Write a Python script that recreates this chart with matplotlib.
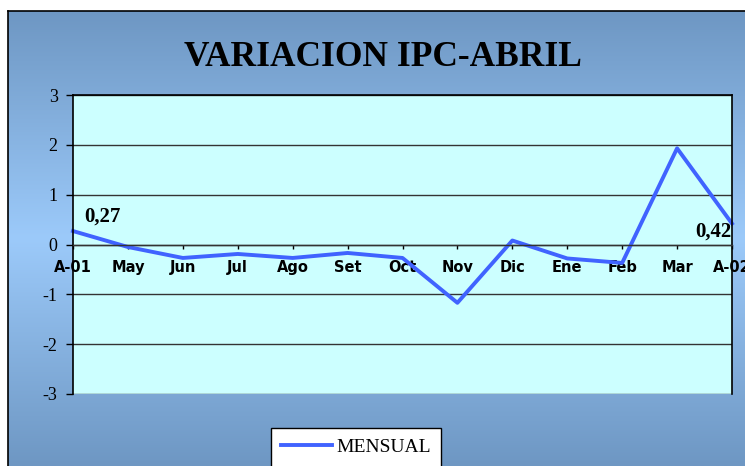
import numpy as np
import matplotlib.pyplot as plt
from matplotlib.colors import LinearSegmentedColormap

# data (monthly CPI change, %)
meses = ['A-01', 'May', 'Jun', 'Jul', 'Ago', 'Set', 'Oct', 'Nov', 'Dic', 'Ene', 'Feb', 'Mar', 'A-02']
mensual = [0.27, -0.05, -0.27, -0.19, -0.27, -0.17, -0.27, -1.17, 0.08, -0.28, -0.37, 1.93, 0.42]
yticks = [-3, -2, -1, 0, 1, 2, 3]

line_color = '#4063ff'
serif = 'Liberation Serif'

fig = plt.figure(figsize=(7.45, 4.66), dpi=100)
fig.patch.set_facecolor('white')

# gradient background panel
bg = fig.add_axes([8 / 745, 0, 737 / 745, 455 / 466])
cmap = LinearSegmentedColormap.from_list('bg', ['#6e97c3', '#9ccafa', '#6e97c3'])
grad = np.linspace(0, 1, 256).reshape(-1, 1)
bg.imshow(grad, aspect='auto', cmap=cmap, extent=[0, 1, 0, 1])
bg.set_xticks([])
bg.set_yticks([])
for s in ['right', 'bottom']:
    bg.spines[s].set_visible(False)
for s in ['left', 'top']:
    bg.spines[s].set_color('black')
    bg.spines[s].set_linewidth(1.2)

ax = fig.add_axes([73 / 745, 1 - 394 / 466, (732 - 73) / 745, (394 - 95) / 466])
ax.set_facecolor('#ccffff')
x = np.arange(len(meses))
ax.plot(x, mensual, color=line_color, lw=2.8, label='MENSUAL', clip_on=False)
ax.set_xlim(0, len(meses) - 1)
ax.set_ylim(-3, 3)

ax.set_yticks(yticks)
ax.set_yticklabels([str(v) for v in yticks], fontfamily=serif, fontsize=13)
ax.yaxis.grid(True, color='#333333', lw=1)
ax.set_axisbelow(True)
ax.tick_params(axis='y', direction='out', length=5, width=1, pad=6)

ax.spines['bottom'].set_position(('data', 0))
ax.spines['bottom'].set_linewidth(1)
ax.spines['bottom'].set_color('#333333')
for s in ['left', 'top', 'right']:
    ax.spines[s].set_color('black')
    ax.spines[s].set_linewidth(1.2)
ax.set_xticks(x)
ax.set_xticklabels(meses, fontsize=10.5, fontweight='bold')
ax.tick_params(axis='x', direction='out', length=3, width=1, pad=8)

# data labels
ax.annotate('0,27', (x[0], mensual[0]), xytext=(8, 3), textcoords='offset points',
            fontfamily=serif, fontsize=15, fontweight='bold', ha='left', va='bottom')
ax.annotate('0,42', (x[-1], mensual[-1]), xytext=(0, -6), textcoords='offset points',
            fontfamily=serif, fontsize=15, fontweight='bold', ha='right', va='center')

fig.text(383 / 745, 1 - 58 / 466, 'VARIACION IPC-ABRIL', fontfamily=serif,
         fontsize=25.5, fontweight='bold', ha='center', va='center')

leg = fig.legend(loc='center', bbox_to_anchor=(356 / 745, 1 - 447 / 466),
                 prop={'family': serif, 'size': 14}, frameon=True, fancybox=False,
                 handlelength=2.6, handletextpad=0.2, borderpad=0.55, framealpha=1)
leg.get_frame().set_facecolor('white')
leg.get_frame().set_edgecolor('black')
leg.get_frame().set_linewidth(1)

fig.savefig('out.png', dpi=100)
